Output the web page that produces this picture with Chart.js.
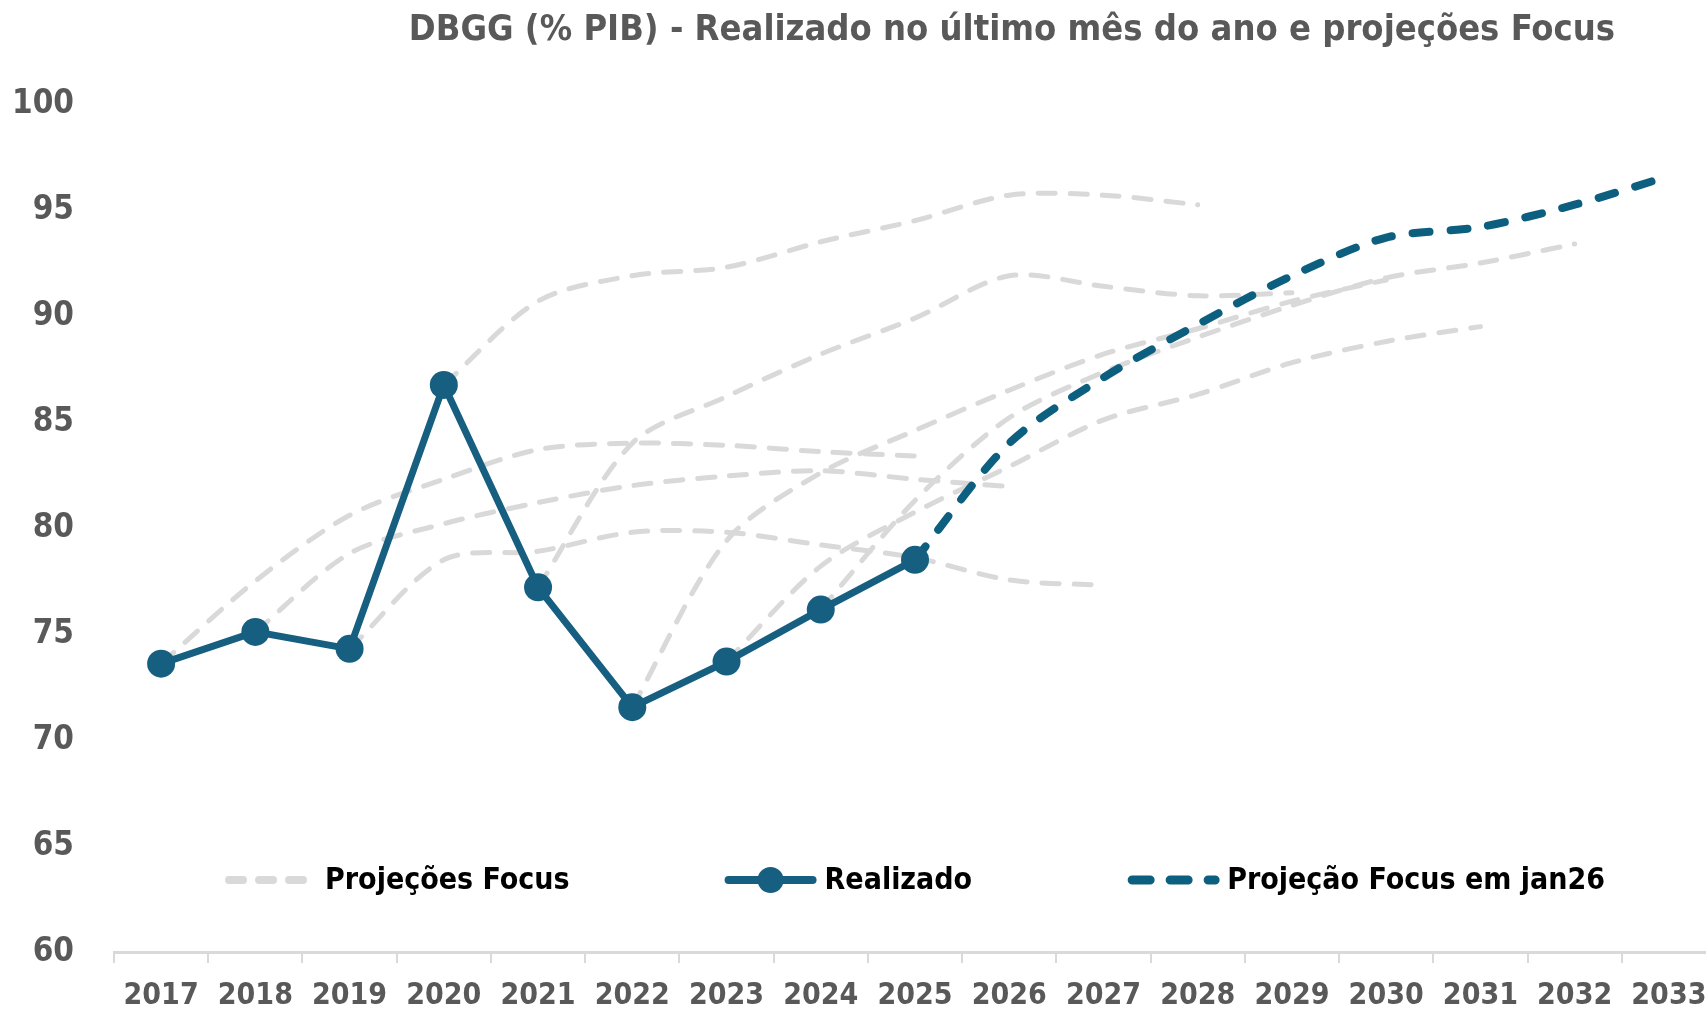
<!DOCTYPE html>
<html lang="pt">
<head>
    <meta charset="UTF-8">
    <title>DBGG (% PIB)</title>
    <style>
        body { margin: 0; background: #fff; overflow: hidden; }
        .chart-container { width: 1730px; height: 1029px; position: relative; }
    </style>
</head>
<body>
<div class="chart-container">
    <canvas id="dbggChart"></canvas>
</div>
<script src="https://cdn.jsdelivr.net/npm/chart.js"></script>
<script>
// categories
const years = ['2017', '2018', '2019', '2020', '2021', '2022', '2023', '2024', '2025',
               '2026', '2027', '2028', '2029', '2030', '2031', '2032', '2033'];
const yTicks = [60, 65, 70, 75, 80, 85, 90, 95, 100];

// realizado no ultimo mes do ano
const realizado = [73.6, 75.1, 74.3, 86.75, 77.2, 71.55, 73.7, 76.15, 78.5,
                   null, null, null, null, null, null, null, null];

// projecao Focus em jan26
const focusJan26 = [null, null, null, null, null, null, null, null, 78.5,
                    84.0, 87.1, 89.6, 91.9, 93.7, 94.2, 95.25, 96.6];

// projecoes Focus feitas em dezembro de cada ano
const proj2017 = [73.6, 77.5, 80.6, 82.3, 83.7, 84.0, 83.9, 83.6, 83.4,
                  null, null, null, null, null, null, null, null];
const proj2018 = [null, 75.1, 78.8, 80.2, 81.2, 82.0, 82.45, 82.7, 82.3,
                  81.95, null, null, null, null, null, null, null];
const proj2019 = [null, null, 74.3, 78.5, 78.9, 79.8, 79.8, 79.2, 78.6,
                  77.55, 77.3, null, null, null, null, null, null];
const proj2020 = [null, null, null, 86.75, 90.7, 91.9, 92.3, 93.5, 94.5,
                  95.7, 95.7, 95.25, null, null, null, null, null];
const proj2021 = [null, null, null, null, 77.2, 84.0, 86.2, 88.2, 89.9,
                  91.9, 91.4, 90.95, 91.1, null, null, null, null];
const proj2022 = [null, null, null, null, null, 71.55, 79.4, 82.6, 84.6,
                  86.5, 88.2, 89.4, 90.7, 91.7, null, null, null];
const proj2023 = [null, null, null, null, null, null, 73.7, 78.2, 80.75,
                  82.9, 85.1, 86.3, 87.8, 88.8, 89.5, null, null];
const proj2024 = [null, null, null, null, null, null, null, 76.15, 81.3,
                  85.2, 87.35, 89.0, 90.5, 91.8, 92.5, 93.4, null];

const projecoes = [proj2017, proj2018, proj2019, proj2020, proj2021, proj2022, proj2023, proj2024];

const GRAY = '#D9D9D9';
const BLUE = '#175F80';
const BLUE_DASH = '#0D5F7F';
const LABEL_GRAY = '#595959';
const FONT = "'Liberation Sans Narrow', 'DejaVu Sans Condensed', 'Arial Narrow', sans-serif";

Chart.defaults.font.family = FONT;

const grayDatasets = projecoes.map(arr => ({
    label: 'Projeções Focus',
    data: arr,
    borderColor: GRAY,
    borderWidth: 5,
    borderDash: [17, 15],
    borderCapStyle: 'round',
    pointRadius: 0,
    tension: 0.3,
    spanGaps: false,
    order: 3
}));

// legend + title drawn on the canvas
const legendTitlePlugin = {
    id: 'legendTitle',
    afterDraw(chart) {
        const ctx = chart.ctx;
        const area = chart.chartArea;
        ctx.save();

        // title
        ctx.font = 'bold 36px ' + FONT;
        ctx.fillStyle = LABEL_GRAY;
        ctx.textAlign = 'center';
        ctx.textBaseline = 'middle';
        ctx.fillText('DBGG (% PIB) - Realizado no último mês do ano e projeções Focus', 1012, 31);

        // legend
        const items = [
            { text: 'Projeções Focus', type: 'gray' },
            { text: 'Realizado', type: 'solid' },
            { text: 'Projeção Focus em jan26', type: 'dash' }
        ];
        ctx.font = 'bold 30px ' + FONT;
        const sampleW = 92, sampleGap = 8, itemGap = 155;
        let total = 0;
        items.forEach(it => { it.w = ctx.measureText(it.text).width; total += sampleW + sampleGap + it.w; });
        total += itemGap * (items.length - 1);
        let x = (area.left + area.right) / 2 - total / 2;
        const y = 880;
        items.forEach(it => {
            ctx.lineCap = 'round';
            if (it.type === 'gray') {
                ctx.strokeStyle = GRAY; ctx.lineWidth = 8;
                ctx.setLineDash([14, 16]);
                ctx.beginPath(); ctx.moveTo(x + 4, y); ctx.lineTo(x + sampleW - 4, y); ctx.stroke();
            } else if (it.type === 'solid') {
                ctx.strokeStyle = BLUE; ctx.lineWidth = 8;
                ctx.setLineDash([]);
                ctx.beginPath(); ctx.moveTo(x + 4, y); ctx.lineTo(x + sampleW - 4, y); ctx.stroke();
                ctx.fillStyle = BLUE;
                ctx.beginPath(); ctx.arc(x + sampleW / 2, y, 13, 0, Math.PI * 2); ctx.fill();
            } else {
                ctx.strokeStyle = BLUE_DASH; ctx.lineWidth = 9;
                ctx.setLineDash([18, 20]);
                ctx.beginPath(); ctx.moveTo(x + 5, y); ctx.lineTo(x + sampleW - 4, y); ctx.stroke();
            }
            ctx.setLineDash([]);
            ctx.fillStyle = '#000';
            ctx.textAlign = 'left';
            ctx.textBaseline = 'middle';
            ctx.fillText(it.text, x + sampleW + sampleGap, y + 1);
            x += sampleW + sampleGap + it.w + itemGap;
        });
        ctx.restore();
    }
};

const ctx = document.getElementById('dbggChart').getContext('2d');
new Chart(ctx, {
    type: 'line',
    data: {
        labels: years,
        datasets: [
            {
                label: 'Realizado',
                data: realizado,
                borderColor: BLUE,
                backgroundColor: BLUE,
                borderWidth: 7,
                pointRadius: 14,
                pointBackgroundColor: BLUE,
                pointBorderWidth: 0,
                tension: 0,
                order: 1
            },
            {
                label: 'Projeção Focus em jan26',
                data: focusJan26,
                borderColor: BLUE_DASH,
                borderWidth: 8,
                borderDash: [17, 21],
                borderCapStyle: 'round',
                pointRadius: 0,
                tension: 0.3,
                order: 2
            },
            ...grayDatasets
        ]
    },
    options: {
        responsive: true,
        maintainAspectRatio: false,
        animation: false,
        events: [],
        layout: { padding: { top: 104, right: 13, bottom: 0, left: 0 } },
        plugins: {
            legend: { display: false },
            title: { display: false },
            tooltip: { enabled: false }
        },
        scales: {
            x: {
                type: 'category',
                offset: true,
                grid: {
                    offset: true,
                    drawOnChartArea: false,
                    drawTicks: true,
                    tickLength: 11,
                    color: GRAY,
                    lineWidth: 2
                },
                border: { display: true, color: GRAY, width: 3 },
                ticks: {
                    color: LABEL_GRAY,
                    font: { size: 30, weight: 'bold' },
                    padding: 15,
                    maxRotation: 0,
                    autoSkip: false
                }
            },
            y: {
                min: 60,
                max: 100,
                afterFit(scale) { scale.width = 114; },
                afterBuildTicks(scale) { scale.ticks = yTicks.map(v => ({ value: v })); },
                grid: { display: false },
                border: { display: false },
                ticks: {
                    color: LABEL_GRAY,
                    font: { size: 33, weight: 'bold' },
                    padding: 32
                }
            }
        }
    },
    plugins: [legendTitlePlugin]
});
</script>
</body>
</html>
